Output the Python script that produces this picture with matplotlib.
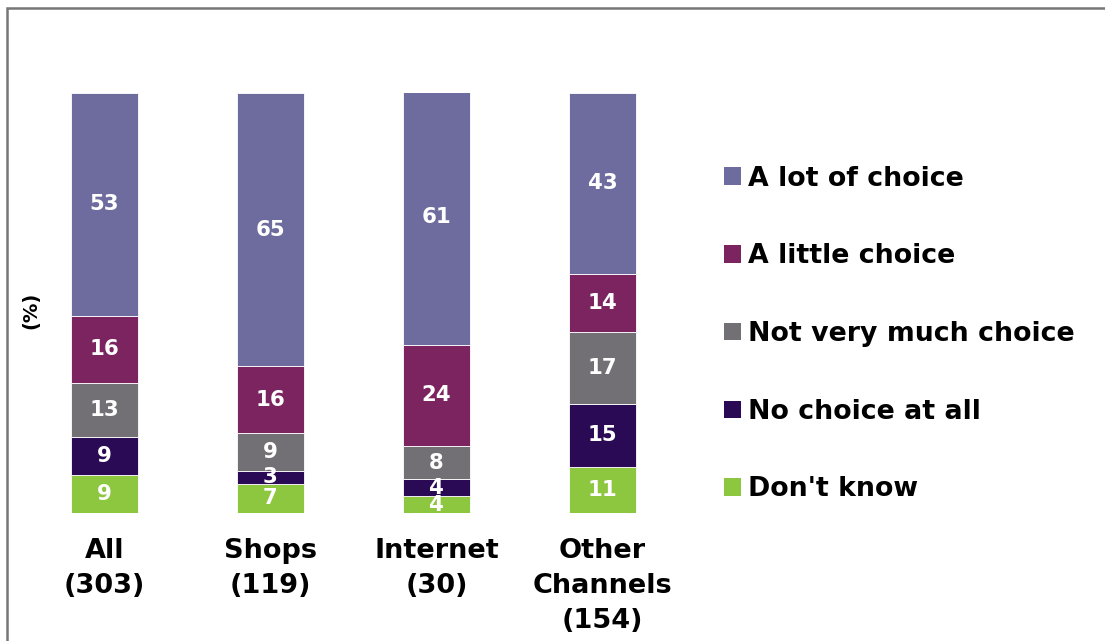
import matplotlib
matplotlib.use("Agg")
import matplotlib.pyplot as plt
from matplotlib.patches import Rectangle, Patch

plt.rcParams['font.family'] = ['DejaVu Sans']
plt.rcParams['font.weight'] = 'bold'

categories = ["All\n(303)", "Shops\n(119)", "Internet\n(30)", "Other\nChannels\n(154)"]
series_names = ["Don't know", "No choice at all", "Not very much choice",
                "A little choice", "A lot of choice"]
dont_know = [9, 7, 4, 11]
no_choice = [9, 3, 4, 15]
not_very_much = [13, 9, 8, 17]
a_little = [16, 16, 24, 14]
a_lot = [53, 65, 61, 43]
series_values = [dont_know, no_choice, not_very_much, a_little, a_lot]
colors = ["#8DC63F", "#2A0A55", "#727075", "#7B2460", "#6E6C9E"]

W, H = 1105, 641
fig = plt.figure(figsize=(W / 100, H / 100), dpi=100)
ax = fig.add_axes([21.5 / W, 1 - 513 / H, 664 / W, 420 / H])

x = list(range(len(categories)))
bottoms = [0] * len(categories)
for name, vals, col in zip(series_names, series_values, colors):
    ax.bar(x, vals, width=0.4, bottom=bottoms, color=col, label=name,
           edgecolor='white', linewidth=0.6)
    for xi, b, v in zip(x, bottoms, vals):
        ax.text(xi, b + v / 2, str(v), ha='center', va='center', color='white',
                fontsize=15.3, fontweight='bold')
    bottoms = [b + v for b, v in zip(bottoms, vals)]

ax.set_xlim(-0.5, 3.5)
ax.set_ylim(0, 100)
ax.set_xticks(x)
ax.set_xticklabels(categories, fontsize=19.5, fontweight='bold', linespacing=1.44)
ax.tick_params(axis='x', length=0, pad=18)
ax.set_yticks([])
for s in ax.spines.values():
    s.set_visible(False)

fig.text(31 / W, 1 - 310 / H, "(%)", rotation=90, ha='center', va='center',
         fontsize=14, fontweight='bold')

handles = [Patch(facecolor=c, label=n) for n, c in zip(series_names, colors)][::-1]
fig.legend(handles=handles, loc='center left', bbox_to_anchor=(724 / W, 1 - 334 / H),
           frameon=False, labelspacing=1.93, handlelength=0.63,
           handleheight=0.63, handletextpad=0.26, borderpad=0, borderaxespad=0,
           prop={'weight': 'bold', 'size': 19.3})

# outer frame
fig.patches.append(Rectangle((7 / W, -0.05), 1.2, 1 - 8 / H + 0.05,
                             transform=fig.transFigure, fill=False,
                             edgecolor='#777777', linewidth=1.8))

fig.savefig("out.png", dpi=100)
